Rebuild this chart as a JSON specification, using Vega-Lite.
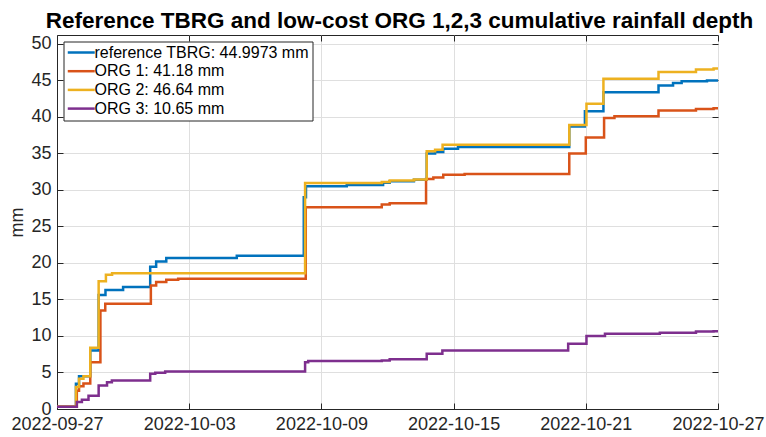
{
 "$schema": "https://vega.github.io/schema/vega-lite/v6.json",
 "width": 661, "height": 374,
 "autosize": "none",
 "padding": {"left": 57, "top": 35, "right": 48, "bottom": 28},
 "background": "white",
 "title": {"text": "Reference TBRG and low-cost ORG 1,2,3 cumulative rainfall depth", "font": "Liberation Sans", "fontSize": 22.5, "fontWeight": "bold", "color": "#000000", "anchor": "middle", "dx": 12, "offset": 2},
 "config": {
  "view": {"stroke": "#262626", "strokeWidth": 1},
  "axis": {"labelFont": "Liberation Sans", "labelFontSize": 18, "labelColor": "#262626", "domainColor": "#262626", "tickColor": "#262626", "tickSize": -6, "gridColor": "#dfdfdf", "gridWidth": 1, "titleFont": "Liberation Sans", "titleFontSize": 18, "titleFontWeight": "normal", "titleColor": "#262626", "labelFlush": false, "labelOverlap": false}
 },
 "datasets": {
  "rain": [
   {"t": "2022-09-27T00:00", "v": 0.3, "s": "reference TBRG: 44.9973 mm"},
   {"t": "2022-09-27T20:38", "v": 3.47, "s": "reference TBRG: 44.9973 mm"},
   {"t": "2022-09-28T00:00", "v": 4.47, "s": "reference TBRG: 44.9973 mm"},
   {"t": "2022-09-28T12:14", "v": 8.0, "s": "reference TBRG: 44.9973 mm"},
   {"t": "2022-09-28T21:22", "v": 15.6, "s": "reference TBRG: 44.9973 mm"},
   {"t": "2022-09-29T04:48", "v": 16.3, "s": "reference TBRG: 44.9973 mm"},
   {"t": "2022-09-30T00:00", "v": 16.7, "s": "reference TBRG: 44.9973 mm"},
   {"t": "2022-10-01T05:31", "v": 19.5, "s": "reference TBRG: 44.9973 mm"},
   {"t": "2022-10-01T12:00", "v": 20.2, "s": "reference TBRG: 44.9973 mm"},
   {"t": "2022-10-01T23:02", "v": 20.7, "s": "reference TBRG: 44.9973 mm"},
   {"t": "2022-10-05T03:50", "v": 21.0, "s": "reference TBRG: 44.9973 mm"},
   {"t": "2022-10-08T04:48", "v": 29.0, "s": "reference TBRG: 44.9973 mm"},
   {"t": "2022-10-08T07:12", "v": 30.5, "s": "reference TBRG: 44.9973 mm"},
   {"t": "2022-10-10T03:36", "v": 30.7, "s": "reference TBRG: 44.9973 mm"},
   {"t": "2022-10-11T19:12", "v": 31.0, "s": "reference TBRG: 44.9973 mm"},
   {"t": "2022-10-12T02:24", "v": 31.2, "s": "reference TBRG: 44.9973 mm"},
   {"t": "2022-10-13T04:48", "v": 31.4, "s": "reference TBRG: 44.9973 mm"},
   {"t": "2022-10-13T18:43", "v": 35.0, "s": "reference TBRG: 44.9973 mm"},
   {"t": "2022-10-14T03:50", "v": 35.2, "s": "reference TBRG: 44.9973 mm"},
   {"t": "2022-10-14T12:43", "v": 35.65, "s": "reference TBRG: 44.9973 mm"},
   {"t": "2022-10-15T04:48", "v": 35.9, "s": "reference TBRG: 44.9973 mm"},
   {"t": "2022-10-20T06:00", "v": 38.7, "s": "reference TBRG: 44.9973 mm"},
   {"t": "2022-10-20T23:02", "v": 40.8, "s": "reference TBRG: 44.9973 mm"},
   {"t": "2022-10-21T19:12", "v": 43.4, "s": "reference TBRG: 44.9973 mm"},
   {"t": "2022-10-24T07:12", "v": 44.3, "s": "reference TBRG: 44.9973 mm"},
   {"t": "2022-10-24T23:02", "v": 44.65, "s": "reference TBRG: 44.9973 mm"},
   {"t": "2022-10-25T08:24", "v": 44.9, "s": "reference TBRG: 44.9973 mm"},
   {"t": "2022-10-26T12:00", "v": 45.0, "s": "reference TBRG: 44.9973 mm"},
   {"t": "2022-10-27T00:00", "v": 45.0, "s": "reference TBRG: 44.9973 mm"},

   {"t": "2022-09-27T00:00", "v": 0.3, "s": "ORG 1: 41.18 mm"},
   {"t": "2022-09-27T21:36", "v": 2.5, "s": "ORG 1: 41.18 mm"},
   {"t": "2022-09-28T00:00", "v": 3.1, "s": "ORG 1: 41.18 mm"},
   {"t": "2022-09-28T04:48", "v": 3.5, "s": "ORG 1: 41.18 mm"},
   {"t": "2022-09-28T12:14", "v": 6.4, "s": "ORG 1: 41.18 mm"},
   {"t": "2022-09-28T23:17", "v": 13.5, "s": "ORG 1: 41.18 mm"},
   {"t": "2022-09-29T04:34", "v": 14.4, "s": "ORG 1: 41.18 mm"},
   {"t": "2022-10-01T06:14", "v": 16.9, "s": "ORG 1: 41.18 mm"},
   {"t": "2022-10-01T12:00", "v": 17.4, "s": "ORG 1: 41.18 mm"},
   {"t": "2022-10-01T23:02", "v": 17.7, "s": "ORG 1: 41.18 mm"},
   {"t": "2022-10-02T12:00", "v": 17.85, "s": "ORG 1: 41.18 mm"},
   {"t": "2022-10-08T06:58", "v": 27.65, "s": "ORG 1: 41.18 mm"},
   {"t": "2022-10-11T17:46", "v": 28.0, "s": "ORG 1: 41.18 mm"},
   {"t": "2022-10-12T02:24", "v": 28.2, "s": "ORG 1: 41.18 mm"},
   {"t": "2022-10-13T18:00", "v": 31.5, "s": "ORG 1: 41.18 mm"},
   {"t": "2022-10-14T01:55", "v": 31.7, "s": "ORG 1: 41.18 mm"},
   {"t": "2022-10-14T12:43", "v": 32.1, "s": "ORG 1: 41.18 mm"},
   {"t": "2022-10-15T12:00", "v": 32.2, "s": "ORG 1: 41.18 mm"},
   {"t": "2022-10-20T06:00", "v": 35.0, "s": "ORG 1: 41.18 mm"},
   {"t": "2022-10-21T00:00", "v": 37.2, "s": "ORG 1: 41.18 mm"},
   {"t": "2022-10-21T19:55", "v": 39.85, "s": "ORG 1: 41.18 mm"},
   {"t": "2022-10-22T07:12", "v": 40.1, "s": "ORG 1: 41.18 mm"},
   {"t": "2022-10-24T07:12", "v": 40.9, "s": "ORG 1: 41.18 mm"},
   {"t": "2022-10-26T00:00", "v": 41.1, "s": "ORG 1: 41.18 mm"},
   {"t": "2022-10-26T19:12", "v": 41.18, "s": "ORG 1: 41.18 mm"},
   {"t": "2022-10-27T00:00", "v": 41.18, "s": "ORG 1: 41.18 mm"},

   {"t": "2022-09-27T00:00", "v": 0.3, "s": "ORG 2: 46.64 mm"},
   {"t": "2022-09-27T20:38", "v": 3.0, "s": "ORG 2: 46.64 mm"},
   {"t": "2022-09-28T00:00", "v": 4.15, "s": "ORG 2: 46.64 mm"},
   {"t": "2022-09-28T04:48", "v": 4.47, "s": "ORG 2: 46.64 mm"},
   {"t": "2022-09-28T12:14", "v": 8.4, "s": "ORG 2: 46.64 mm"},
   {"t": "2022-09-28T21:22", "v": 17.5, "s": "ORG 2: 46.64 mm"},
   {"t": "2022-09-29T05:17", "v": 18.4, "s": "ORG 2: 46.64 mm"},
   {"t": "2022-09-29T12:00", "v": 18.6, "s": "ORG 2: 46.64 mm"},
   {"t": "2022-10-08T06:14", "v": 30.95, "s": "ORG 2: 46.64 mm"},
   {"t": "2022-10-11T17:46", "v": 31.1, "s": "ORG 2: 46.64 mm"},
   {"t": "2022-10-12T02:24", "v": 31.3, "s": "ORG 2: 46.64 mm"},
   {"t": "2022-10-13T04:48", "v": 31.45, "s": "ORG 2: 46.64 mm"},
   {"t": "2022-10-13T18:43", "v": 35.3, "s": "ORG 2: 46.64 mm"},
   {"t": "2022-10-14T03:50", "v": 35.5, "s": "ORG 2: 46.64 mm"},
   {"t": "2022-10-14T12:00", "v": 36.2, "s": "ORG 2: 46.64 mm"},
   {"t": "2022-10-20T06:00", "v": 38.9, "s": "ORG 2: 46.64 mm"},
   {"t": "2022-10-21T00:43", "v": 41.8, "s": "ORG 2: 46.64 mm"},
   {"t": "2022-10-21T19:12", "v": 45.25, "s": "ORG 2: 46.64 mm"},
   {"t": "2022-10-24T07:12", "v": 46.15, "s": "ORG 2: 46.64 mm"},
   {"t": "2022-10-26T00:00", "v": 46.5, "s": "ORG 2: 46.64 mm"},
   {"t": "2022-10-26T19:12", "v": 46.64, "s": "ORG 2: 46.64 mm"},
   {"t": "2022-10-27T00:00", "v": 46.64, "s": "ORG 2: 46.64 mm"},

   {"t": "2022-09-27T00:00", "v": 0.3, "s": "ORG 3: 10.65 mm"},
   {"t": "2022-09-27T21:36", "v": 0.95, "s": "ORG 3: 10.65 mm"},
   {"t": "2022-09-28T03:07", "v": 1.27, "s": "ORG 3: 10.65 mm"},
   {"t": "2022-09-28T10:19", "v": 1.82, "s": "ORG 3: 10.65 mm"},
   {"t": "2022-09-28T21:22", "v": 3.23, "s": "ORG 3: 10.65 mm"},
   {"t": "2022-09-29T06:29", "v": 3.68, "s": "ORG 3: 10.65 mm"},
   {"t": "2022-09-29T11:46", "v": 3.9, "s": "ORG 3: 10.65 mm"},
   {"t": "2022-10-01T05:31", "v": 4.84, "s": "ORG 3: 10.65 mm"},
   {"t": "2022-10-01T11:02", "v": 4.97, "s": "ORG 3: 10.65 mm"},
   {"t": "2022-10-01T21:50", "v": 5.15, "s": "ORG 3: 10.65 mm"},
   {"t": "2022-10-08T06:14", "v": 6.4, "s": "ORG 3: 10.65 mm"},
   {"t": "2022-10-08T09:36", "v": 6.56, "s": "ORG 3: 10.65 mm"},
   {"t": "2022-10-11T17:46", "v": 6.65, "s": "ORG 3: 10.65 mm"},
   {"t": "2022-10-12T02:24", "v": 6.8, "s": "ORG 3: 10.65 mm"},
   {"t": "2022-10-13T18:43", "v": 7.57, "s": "ORG 3: 10.65 mm"},
   {"t": "2022-10-14T11:46", "v": 8.0, "s": "ORG 3: 10.65 mm"},
   {"t": "2022-10-20T04:48", "v": 8.94, "s": "ORG 3: 10.65 mm"},
   {"t": "2022-10-21T00:43", "v": 10.0, "s": "ORG 3: 10.65 mm"},
   {"t": "2022-10-21T20:53", "v": 10.3, "s": "ORG 3: 10.65 mm"},
   {"t": "2022-10-24T08:38", "v": 10.45, "s": "ORG 3: 10.65 mm"},
   {"t": "2022-10-26T00:00", "v": 10.6, "s": "ORG 3: 10.65 mm"},
   {"t": "2022-10-26T19:12", "v": 10.65, "s": "ORG 3: 10.65 mm"},
   {"t": "2022-10-27T00:00", "v": 10.65, "s": "ORG 3: 10.65 mm"}
  ]
 },
 "data": {"name": "rain"},
 "layer": [
  {
   "mark": {"type": "line", "interpolate": "step-after", "strokeWidth": 2.5},
   "encoding": {
    "x": {"field": "t", "type": "temporal",
     "scale": {"domain": [{"year": 2022, "month": 9, "date": 27}, {"year": 2022, "month": 10, "date": 27}]},
     "axis": {"title": null, "format": "%Y-%m-%d", "labelPadding": 12, "grid": true,
      "values": [{"year": 2022, "month": 9, "date": 27}, {"year": 2022, "month": 10, "date": 3}, {"year": 2022, "month": 10, "date": 9}, {"year": 2022, "month": 10, "date": 15}, {"year": 2022, "month": 10, "date": 21}, {"year": 2022, "month": 10, "date": 27}]}},
    "y": {"field": "v", "type": "quantitative",
     "scale": {"domain": [0, 51.23], "nice": false, "zero": true},
     "axis": {"title": "mm", "labelPadding": 12, "titlePadding": 4, "grid": true, "values": [0, 5, 10, 15, 20, 25, 30, 35, 40, 45, 50]}},
    "color": {"field": "s", "type": "nominal",
     "scale": {"domain": ["reference TBRG: 44.9973 mm", "ORG 1: 41.18 mm", "ORG 2: 46.64 mm", "ORG 3: 10.65 mm"], "range": ["#0072BD", "#D95319", "#EDB120", "#7E2F8E"]},
     "legend": {"title": null, "orient": "none", "legendX": 6.5, "legendY": 6.5, "fillColor": "white", "strokeColor": "#262626", "padding": 3, "symbolType": "M-1,0H3", "symbolSize": 182, "symbolStrokeWidth": 2.5, "labelFont": "Liberation Sans", "labelFontSize": 16, "labelColor": "#000000", "labelOffset": 12, "rowPadding": 2.7, "labelLimit": 400}}
   }
  },
  {
   "mark": {"type": "line", "opacity": 0},
   "encoding": {
    "x": {"field": "t", "type": "temporal",
     "axis": {"orient": "top", "labels": false, "title": null, "grid": false, "domain": false, "minExtent": 0, "maxExtent": 0,
      "values": [{"year": 2022, "month": 9, "date": 27}, {"year": 2022, "month": 10, "date": 3}, {"year": 2022, "month": 10, "date": 9}, {"year": 2022, "month": 10, "date": 15}, {"year": 2022, "month": 10, "date": 21}, {"year": 2022, "month": 10, "date": 27}]}},
    "y": {"field": "v", "type": "quantitative",
     "axis": {"orient": "right", "labels": false, "title": null, "grid": false, "domain": false, "minExtent": 0, "maxExtent": 0, "values": [0, 5, 10, 15, 20, 25, 30, 35, 40, 45, 50]}}
   }
  }
 ],
 "resolve": {"axis": {"x": "independent", "y": "independent"}}
}
